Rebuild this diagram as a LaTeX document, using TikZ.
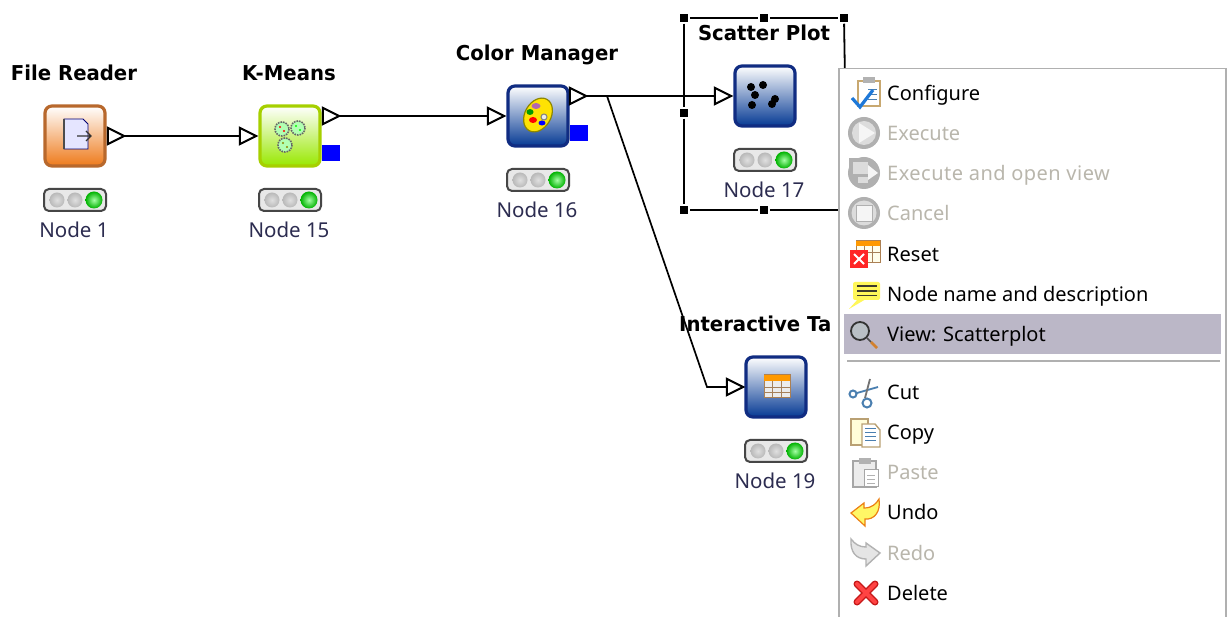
\documentclass[tikz,border=0pt]{standalone}
\usepackage{fontspec}
\setmainfont{Noto Sans}
\newfontfamily\titlefont[FakeStretch=0.96]{DejaVu Sans}
\newfontfamily\widemenu[LetterSpace=2.4]{Noto Sans}
\definecolor{lbl}{HTML}{2C2C50}
\definecolor{dis}{HTML}{B9B6AC}
\definecolor{dgray}{HTML}{B0B0B0}
\definecolor{lgray}{HTML}{DCDCDC}
\definecolor{hl}{HTML}{BBB7C7}
\definecolor{bordgray}{HTML}{B0B0B0}
\definecolor{tan}{HTML}{C8A870}
\definecolor{steel}{HTML}{4A7FB0}
\definecolor{check}{HTML}{1E78D8}
\tikzset{
  x=1pt,y=-1pt,
  icon/.style={draw,line width=3.2pt,rounded corners=7pt,minimum size=60pt,inner sep=0pt,top color=white,shading angle=30},
  orangeicon/.style={icon,draw={rgb,255:red,184;green,104;blue,44},bottom color={rgb,255:red,238;green,122;blue,27}},
  greenicon/.style={icon,draw={rgb,255:red,166;green,208;blue,0},bottom color={rgb,255:red,152;green,232;blue,0}},
  navyicon/.style={icon,draw={rgb,255:red,16;green,44;blue,130},bottom color={rgb,255:red,6;green,58;blue,148}},
  titletext/.style={font=\titlefont\fontsize{20.5}{20}\selectfont\bfseries,text=black,anchor=base,inner sep=0pt},
  labeltext/.style={font=\fontsize{20.5}{20}\selectfont,text=lbl,anchor=base,inner sep=0pt},
  menutext/.style={font=\fontsize{20}{20}\selectfont,text=black,anchor=base west,inner sep=0pt},
  menuoff/.style={menutext,text=dis},
  portbox/.style={minimum size=16pt,inner sep=0pt},
  wire/.style={line width=1.7pt,black},
  handle/.style={fill=black,draw=white,line width=1.5pt,minimum size=10pt,inner sep=0pt},
  selline/.style={line width=1.8pt,black},
  lights/.style={draw={rgb,255:red,70;green,70;blue,70},line width=2pt,fill={rgb,255:red,232;green,232;blue,232},rounded corners=5pt,minimum width=62pt,minimum height=22pt,inner sep=0pt},
}
\newcommand{\portmark}[3]{%
  \node[portbox] (#1) at (#2,#3) {};
  \draw[line width=2pt,fill=white] (#1.north west) -- (#1.east) -- (#1.south west) -- cycle;
}
\newcommand{\knode}[6]{%
  \node[#4] (#1) at (#2,#3) {};
  \node[titletext] (#1t) at (#2-1,#3-55) {#5};
  \node[lights] (#1s) at (#2,#3+64) {};
  \shade[inner color=gray!25,outer color=gray!55] (#2-18,#3+64) circle (7.5);
  \shade[inner color=gray!25,outer color=gray!55] (#2,#3+64) circle (7.5);
  \shade[inner color=green!35!white,outer color=green!70!black] (#2+19,#3+64) circle (8.5);
  \node[labeltext] (#1l) at (#2-1,#3+101.5) {#6};
}
\begin{document}
\begin{tikzpicture}
\useasboundingbox (0,0) rectangle (1227,617);
\fill[white] (0,0) rectangle (1227,617);

% workflow nodes
\knode{fr}{75}{136}{orangeicon}{File Reader}{Node 1}
\knode{km}{290}{136}{greenicon}{K-Means}{Node 15}
\knode{cm}{538}{116}{navyicon}{Color Manager}{Node 16}
\knode{sp}{765}{96}{navyicon}{Scatter Plot}{Node 17}
\knode{it}{776}{387}{navyicon}{}{Node 19}
\node[titletext,anchor=base west] (itt2) at (679,332) {Interactive Ta};

% file reader glyph
\fill[blue!10,draw=blue!45!black,line width=.8pt] (64,119) -- (83,119) -- (88,124) -- (88,149) -- (64,149) -- cycle;
\draw[line width=1.5pt,black!70] (64,119) -- (64,149);
\draw[line width=1.1pt,black!80] (77,136) -- (91,136) (86,131) -- (91,136) -- (86,141);

% k-means glyph
\foreach \gx/\gy/\gc in {282/129/red,298/128/green,285/145/olive}{
  \draw[gray!80!black,line width=1.6pt,densely dotted,fill=white!70!green] (\gx,\gy) circle (7);
  \fill[\gc] (\gx-2,\gy-2) circle (1.2) (\gx+2,\gy+2) circle (1.2);
}

% palette glyph
\draw[line width=1.2pt,olive,fill=yellow!85!orange,rotate around={-30:(538,115)}] (538,115) ellipse (13 and 18);
\fill[violet!60] (536,106) ellipse (4.5 and 3);
\fill[green!60!black] (530,112) ellipse (3.5 and 3);
\fill[red] (533,120) ellipse (4 and 3);
\fill[blue] (542,123) ellipse (3.5 and 2.5);
\draw[gray,line width=1pt,fill=white!85!gray] (544,117) circle (3);

% scatter glyph
\foreach \dx/\dy in {751/87,763/85,755/95,752/105,775/99,772/104}{
  \fill[black] (\dx,\dy) circle (4);
}

% table glyph
\fill[white!85!gray,draw=brown!70!gray,line width=1pt] (764,375) rectangle (790,398);
\fill[orange!80!yellow] (764,375) rectangle (790,381);
\draw[brown!60!gray,line width=.9pt] (764,387) -- (790,387) (764,392.5) -- (790,392.5) (772.5,381) -- (772.5,398) (781,381) -- (781,398);

% blue flow ports
\fill[blue] (322,145) rectangle (340,161);
\fill[blue] (570,125) rectangle (588,141);

% ports
\portmark{frout}{116}{136}
\portmark{kmin}{248}{136}
\portmark{kmout}{331}{116}
\portmark{cmin}{496}{116}
\portmark{cmout}{578}{96}
\portmark{spin}{723}{96}
\portmark{itin}{735}{387}

% connectors
\coordinate (split) at (607,96);
\coordinate (bend) at (707,387);
\draw[wire] (frout.east) -- (kmin.west);
\draw[wire] (kmout.east) -- (cmin.west);
\draw[wire] (cmout.east) -- (spin.west);
\draw[wire] (split) -- (bend) -- (itin.west);

% selection frame
\node[handle] (h1) at (684,18) {};
\node[handle] (h2) at (764,18) {};
\node[handle] (h3) at (844,18) {};
\node[handle] (h4) at (684,113) {};
\node[handle] (h5) at (684,210) {};
\node[handle] (h6) at (764,210) {};
\coordinate (hr) at (845,80);
\coordinate (hb) at (845,210);
\draw[selline] (h1) -- (h2);
\draw[selline] (h2) -- (h3);
\draw[selline] (h1) -- (h4);
\draw[selline] (h4) -- (h5);
\draw[selline] (h5) -- (h6);
\draw[selline] (h6) -- (hb);
\draw[selline] (h3) -- (hr);

% menu
\fill[white,draw=bordgray,line width=1.6pt] (839,68.5) -- (1226,68.5) -- (1226,625) -- (839,625) -- cycle;
\fill[hl] (844,314) rectangle (1221,354);
\draw[line width=1.4pt,bordgray] (847,361) -- (1220,361);

\node[menutext] (m1) at (887,101) {Configure};
\node[menuoff] (m2) at (887,141) {Execute};
\node[menuoff,font=\widemenu\fontsize{20}{20}\selectfont] (m3) at (887,181) {Execute and open view};
\node[menuoff] (m4) at (887,221) {Cancel};
\node[menutext] (m5) at (887,262) {Reset};
\node[menutext] (m6) at (887,302) {Node name and description};
\node[menutext] (m7) at (887,342) {View: Scatterplot};
\node[menutext] (m8) at (887,400) {Cut};
\node[menutext] (m9) at (887,440) {Copy};
\node[menuoff] (m10) at (887,480) {Paste};
\node[menutext] (m11) at (887,520) {Undo};
\node[menuoff] (m12) at (887,560) {Redo};
\node[menutext] (m13) at (887,600) {Delete};

% configure icon
\draw[tan,line width=1.8pt,fill=white] (858,81) rectangle (880,106);
\fill[gray!60] (863,77) rectangle (875,83);
\draw[steel,line width=1pt] (868,90) -- (877,90) (868,95) -- (877,95) (868,100) -- (877,100);
\draw[check,line width=3.2pt] (852,98) -- (860,107) -- (873,90);

% execute icons
\fill[dgray] (864,133) circle (16);
\fill[lgray] (864,133) circle (12);
\fill[white!92!gray] (859,123) -- (875,133) -- (859,143) -- cycle;
\fill[dgray] (864,173) circle (16);
\fill[dgray] (849,158) rectangle (866,178);
\fill[lgray] (853,162) rectangle (868,174);
\fill[white!92!gray] (868,165) -- (878,173) -- (868,180) -- cycle;
\fill[lgray] (858,177) rectangle (868,183);
\fill[dgray] (864,213) circle (16);
\fill[lgray] (864,213) circle (12.5);
\fill[white!92!gray,draw=dgray,line width=.8pt] (856,205) rectangle (872,221);

% reset icon
\fill[white!92!yellow,draw=brown!70!gray,line width=1pt] (856,241) rectangle (880,263);
\fill[orange!80!yellow] (856,241) rectangle (880,246);
\draw[brown!60!gray,line width=.8pt] (856,252) -- (880,252) (864,246) -- (864,263) (872,246) -- (872,263);
\fill[red!80!pink] (850,250) rectangle (868,268);
\draw[white,line width=1.8pt] (854,254) -- (864,264) (864,254) -- (854,264);

% node description icon
\fill[yellow!65,rounded corners=2pt] (853,282) rectangle (880,300);
\fill[yellow!65] (858,299) -- (849,309) -- (866,299) -- cycle;
\draw[black!75!olive,line width=1.6pt] (857,286) -- (877,286) (857,291) -- (877,291) (857,295.5) -- (877,295.5);

% view icon
\draw[black!80,line width=1.8pt,fill=steel!25!gray!50] (860,331) circle (9);
\draw[black!70,line width=1.6pt] (867,338) -- (871,342);
\draw[brown!70!orange,line width=2.6pt] (871,342) -- (877,348);

% cut icon
\draw[steel,line width=2pt] (853,394) circle (3.5) (867,403) circle (4.5);
\draw[steel,line width=1.8pt] (857,393) -- (878,387);
\draw[black!55,line width=1.8pt] (870,379) -- (865,398);

% copy icon
\draw[tan!80!gray,line width=1.4pt,fill=yellow!15] (851,419) rectangle (868,445);
\draw[tan!80!gray,line width=1.4pt,fill=white] (862,424) -- (875,424) -- (880,430) -- (880,447) -- (862,447) -- cycle;
\draw[steel,line width=1pt] (865,429) -- (876,429) (865,433) -- (876,433) (865,437) -- (876,437) (865,441) -- (876,441);

% paste icon
\draw[gray!70,line width=1.6pt,fill=gray!15] (853,461) rectangle (876,487);
\fill[gray!60] (859,458) rectangle (871,464);
\draw[gray!70,line width=1pt,fill=white] (864,470) rectangle (878,487);
\draw[gray!60,line width=.8pt] (867,475) -- (875,475) (867,479) -- (875,479) (867,483) -- (875,483);

% undo icon
\draw[orange!70!brown,line width=1.2pt,fill=yellow!60] (851,513) -- (864,503) -- (864,508) .. controls (872,508) and (876,504) .. (879,499) .. controls (881,512) and (874,520) .. (865,519) -- (865,526) -- cycle;

% redo icon
\draw[gray!60,line width=1.4pt,fill=gray!20] (880,553) -- (866,543) -- (866,547) .. controls (859,547) and (855,544) .. (851,539) .. controls (850,552) and (856,559) .. (866,559) -- (866,566) -- cycle;

% delete icon
\draw[red!75!black!90,line width=7pt,line cap=round] (857,584) -- (875,602) (875,584) -- (857,602);
\draw[red!65!pink,line width=4pt,line cap=round] (857,584) -- (875,602) (875,584) -- (857,602);
\end{tikzpicture}
\end{document}
